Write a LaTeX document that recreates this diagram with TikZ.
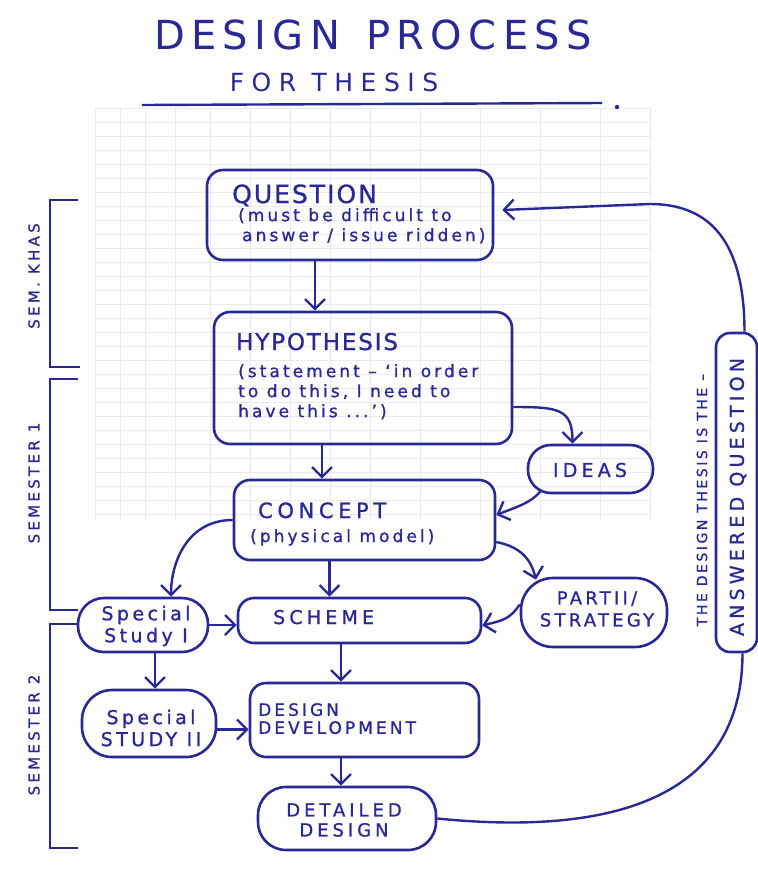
\documentclass[tikz,border=0pt]{standalone}
\usepackage{fontspec}
\setmainfont{DejaVu Sans}
\newfontfamily\hand{DejaVu Sans}[LetterSpace=18,FakeBold=1]
\newfontfamily\handcap{DejaVu Sans}[LetterSpace=8,FakeBold=1]
\newfontfamily\handwide{DejaVu Sans}[LetterSpace=22,FakeBold=1]
\newfontfamily\titlefont{DejaVu Sans}[LetterSpace=16]
\newfontfamily\subfont{DejaVu Sans}[LetterSpace=30]
\usetikzlibrary{arrows.meta}
\definecolor{ink}{RGB}{40,40,150}
\definecolor{paper}{RGB}{232,234,240}
\begin{document}
\begin{tikzpicture}[x=1pt,y=-1pt,
  box/.style={draw=ink, line width=2.6pt, rounded corners=16pt, inner sep=0pt},
  pill/.style={draw=ink, line width=2.6pt, rounded corners=26pt, inner sep=0pt},
  conn/.style={draw=ink, line width=2.4pt},
  arr/.style={draw=ink, line width=2.4pt, -{Straight Barb[length=10pt,width=20pt,line width=2.4pt]}},
  txt/.style={text=ink, inner sep=0pt},
  big/.style={txt, font=\handcap\fontsize{23}{26}\selectfont},
  mid/.style={txt, font=\handwide\fontsize{19}{23}\selectfont},
  sml/.style={txt, font=\hand\fontsize{17}{20}\selectfont},
  vert/.style={txt, rotate=90, font=\handwide\fontsize{15}{17}\selectfont}]
\useasboundingbox (0,0) rectangle (758,871);
\fill[white] (0,0) rectangle (758,871);
% faint printed grid behind the sketch
\begin{scope}[paper, line width=0.4pt]
  \foreach \gx in {95,120,145,175,210,250,290,330,370,420,480,540,600,650}
    \draw (\gx,108) -- (\gx,520);
  \foreach \gy in {108,122,136,150,164,178,192,206,220,234,248,262,276,290,304,318,332,346,360,374,388,402,416,430,444,458,472,486,500,514}
    \draw (95,\gy) -- (650,\gy);
\end{scope}

% title
\node[txt, font=\titlefont\fontsize{40}{42}\selectfont] (title) at (373,35) {DESIGN\hspace{26pt}PROCESS};
\node[txt, font=\subfont\fontsize{25}{28}\selectfont] (sub) at (334,82) {FOR THESIS};
\coordinate (ulA) at (142,105);
\coordinate (ulB) at (602,103);
\draw[conn] (ulA) -- (ulB);
\fill[ink] (617,107) circle (2.2pt);

% boxes
\node[box, minimum width=286pt, minimum height=90pt] (q) at (350,215) {};
\node[box, minimum width=298pt, minimum height=132pt] (h) at (363,378) {};
\node[pill, minimum width=125pt, minimum height=48pt, rounded corners=23pt] (ideas) at (590.5,469) {};
\node[box, minimum width=261pt, minimum height=80pt] (c) at (364.5,520) {};
\node[box, minimum width=243pt, minimum height=45pt] (s) at (359.5,620.5) {};
\node[pill, minimum width=130pt, minimum height=54pt] (ss1) at (143,625) {};
\node[pill, minimum width=134pt, minimum height=67pt, rounded corners=30pt] (ss2) at (149,723.5) {};
\node[pill, minimum width=146pt, minimum height=69pt, rounded corners=32pt] (p) at (594,612.5) {};
\node[box, minimum width=229pt, minimum height=74pt] (dd) at (364.5,720) {};
\node[pill, minimum width=178pt, minimum height=63pt, rounded corners=28pt] (dt) at (347,818.5) {};
\node[box, minimum width=41pt, minimum height=319pt, rounded corners=14pt] (ans) at (736.5,492.5) {};

% texts
\node[big, anchor=base west, font=\handcap\fontsize{25}{26}\selectfont] (qt) at (232,203) {QUESTION};
\node[sml, anchor=north west, align=left] (qs) at (238,208) {(must be difficult to\\\hspace*{4pt}answer / issue ridden)};
\node[big, anchor=base west] (ht) at (236,350) {HYPOTHESIS};
\node[sml, anchor=north west, align=left] (hs) at (238,364) {(statement – ‘in order\\to do this, I need to\\have this ...’)};
\node[mid] (it) at (590,470) {IDEAS};
\node[mid, font=\handwide\fontsize{21}{24}\selectfont, anchor=base west] (ct) at (258,518) {CONCEPT};
\node[sml, anchor=base west] (cs) at (250,542) {(physical model)};
\node[mid, anchor=base west, font=\handwide\fontsize{19}{24}\selectfont] (st) at (273,624) {SCHEME};
\node[sml, align=center, font=\hand\fontsize{19}{22}\selectfont] (ss1t) at (146,626) {Special\\Study I};
\node[sml, align=center, font=\hand\fontsize{19}{22}\selectfont] (ss2t) at (151,728) {Special\\STUDY II};
\node[sml, align=center, font=\hand\fontsize{18}{22}\selectfont] (pt) at (597,609) {PARTII/\\STRATEGY};
\node[sml, anchor=north west, align=left, font=\hand\fontsize{17}{18}\selectfont] (ddt) at (258,703) {DESIGN\\DEVELOPMENT};
\node[sml, align=center, font=\handwide\fontsize{18}{20}\selectfont] (dtt) at (344,820) {DETAILED\\DESIGN};
\node[mid, rotate=90, font=\handwide\fontsize{19}{22}\selectfont] (anst) at (738,497) {ANSWERED QUESTION};
\node[vert, font=\hand\fontsize{14}{16}\selectfont] (thes) at (702,500) {THE DESIGN THESIS IS THE –};

% semester brackets
\draw[conn] (78,200) -- (50,200) -- (50,367) -- (80,367);
\draw[conn] (78,379) -- (50,379) -- (50,610) -- (78,610);
\draw[conn] (78,624) -- (50,624) -- (50,848) -- (78,848);
\node[vert] (sem0) at (34,276) {SEM. KHAS};
\node[vert] (sem1) at (34,483) {SEMESTER 1};
\node[vert] (sem2) at (34,735) {SEMESTER 2};

% connectors
\draw[arr] ([xshift=-35pt]q.south) -- ([xshift=-35pt]q.south |- h.north);
\draw[arr] ([xshift=-41pt]h.south) -- ([xshift=-41pt]h.south |- c.north);
\draw[arr] ([yshift=-29pt]h.east) .. controls +(45,0) and +(0,-35) .. ([xshift=-18pt]ideas.north);
\draw[arr] ([xshift=-50pt,yshift=3pt]ideas.south) .. controls +(-10,12) and +(20,-8) .. ([yshift=5pt]c.east);
\draw[arr] (c.west) .. controls +(-45,0) and +(0,-35) .. ([xshift=28pt]ss1.north);
\draw[arr] ([xshift=-35pt]c.south) -- ([xshift=-35pt]c.south |- s.north);
\draw[arr] ([yshift=-22pt]c.east) .. controls +(25,5) and +(-5,-20) .. ([xshift=-58pt,yshift=-3pt]p.north);
\draw[arr] ([yshift=8pt]p.west) .. controls +(-10,15) and +(20,-5) .. ([yshift=-5pt]s.east);
\draw[arr] (ss1.east) -- (ss1.east -| s.west);
\draw[arr] ([xshift=12pt]ss1.south) -- ([xshift=12pt]ss1.south |- ss2.north);
\draw[arr] ([yshift=-6pt]ss2.east) -- ([yshift=-6pt]ss2.east -| dd.west);
\draw[arr] ([xshift=-18.5pt]s.south) -- ([xshift=-18.5pt]s.south |- dd.north);
\draw[arr] ([xshift=-23.5pt]dd.south) -- ([xshift=-23.5pt]dd.south |- dt.north);
\draw[conn] (dt.east) .. controls +(200,20) and +(0,130) .. ([xshift=6pt]ans.south);
\coordinate (bend) at (650,204);
\draw[arr] ([xshift=8pt]ans.north) .. controls +(0,-90) and +(60,0) .. (bend) -- ([xshift=8pt,yshift=5pt]q.east);
\end{tikzpicture}
\end{document}
